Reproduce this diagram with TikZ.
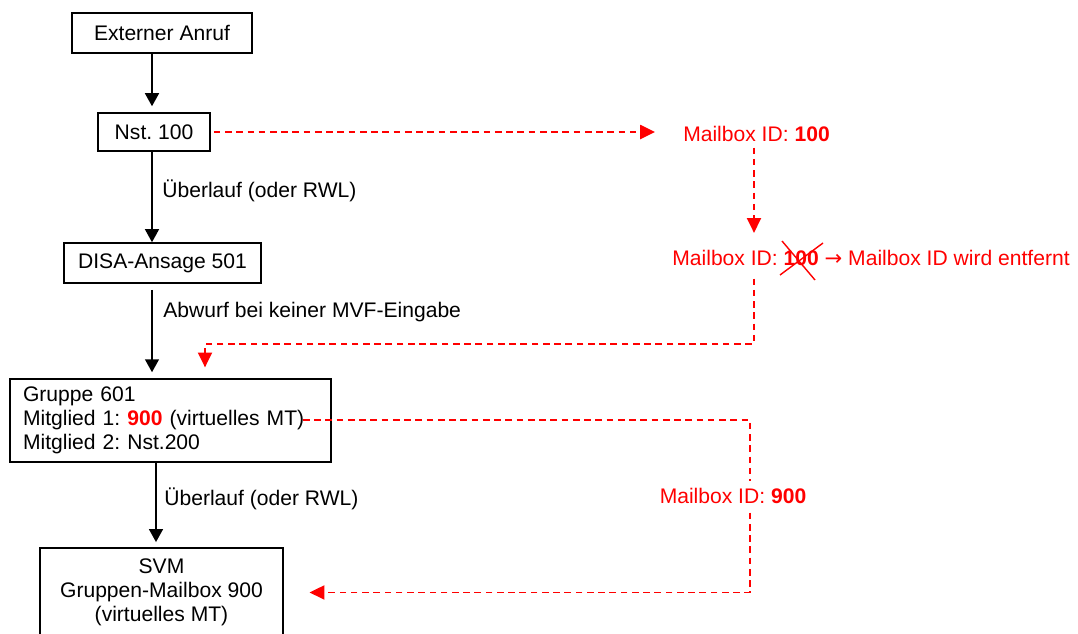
\documentclass[tikz,border=0pt]{standalone}
\usepackage{fontspec}
\setmainfont{Liberation Sans}
\newfontfamily\pfeil{DejaVu Sans}
\usepackage{tikz}
\usetikzlibrary{arrows.meta,positioning,calc}
\definecolor{alarm}{HTML}{FF0000}
\definecolor{ink}{HTML}{000000}

\begin{document}
\begin{tikzpicture}[x=0.02cm,y=-0.02cm,>={Triangle[length=7.4pt,width=7.9pt]},
  every node/.style={font=\fontsize{12pt}{13.8pt}\selectfont\frenchspacing},
  kasten/.style={draw=ink,line width=0.9pt,inner sep=0pt},
  fluss/.style={->,ink,line width=1pt},
  rot/.style={-{Triangle[length=8.4pt,width=8pt]},alarm,line width=1pt,dash pattern=on 3.8pt off 2.6pt},
  rottext/.style={text=alarm,inner sep=0pt},
  notiz/.style={inner sep=0pt,anchor=base west}]
  \useasboundingbox (0,0) rectangle (1078,633);

  % call chain on the left
  \node[kasten,minimum width=3.6cm,minimum height=0.8cm] (anruf) at (162,33) {Externer Anruf};
  \node[kasten,minimum width=2.24cm,minimum height=0.76cm] (nst) at (154,132) {Nst. 100};
  \node[kasten,minimum width=3.94cm,minimum height=0.8cm] (disa) at (162.5,263) {DISA-Ansage 501};
  \node[kasten,minimum width=6.42cm,minimum height=1.66cm,text width=5.9cm,align=left] (gruppe) at (170.5,420.5)
    {Gruppe 601\\Mitglied 1: \textcolor{alarm}{\textbf{900}} (virtuelles MT)\\Mitglied 2: Nst.200};
  \node[kasten,minimum width=4.86cm,inner ysep=6.2pt,align=center,anchor=north] (svm) at (161.5,547)
    {SVM\\Gruppen-Mailbox 900\\(virtuelles MT)};

  \coordinate (achse) at (152,0);
  \coordinate (achse2) at (156,0);
  \draw[fluss,shorten >=3.4pt] (anruf.south -| achse) -- (nst.north -| achse);
  \draw[fluss] (nst.south -| achse) -- (disa.north -| achse);
  \draw[fluss,shorten <=3.4pt,shorten >=3.4pt] (disa.south -| achse) -- (gruppe.north -| achse);
  \draw[fluss,shorten >=2.8pt] (gruppe.south -| achse2) -- (svm.north -| achse2);

  \node[notiz] (ueber1) at (162,197) {Überlauf (oder RWL)};
  \node[notiz] (abwurf) at (163,317) {Abwurf bei keiner MVF-Eingabe};
  \node[notiz] (ueber2) at (164,505) {Überlauf (oder RWL)};

  % mailbox id path
  \node[rottext,anchor=base] (mb100) at (756.5,141) {Mailbox ID: \textbf{100}};
  \node[rottext,anchor=base west] (mb2) at (672,265) {Mailbox ID: \textbf{100} {\pfeil →} Mailbox ID wird entfernt};
  \draw[alarm,line width=0.8pt] ($(mb2.base west)+(110,-24)$) -- ++(33,39);
  \draw[alarm,line width=0.8pt] ($(mb2.base west)+(108,10)$) -- ++(43,-32);

  \coordinate (lot) at (754,0);
  \coordinate (knick) at (754,344);
  \coordinate (ziel) at (205,0);
  \draw[rot,shorten <=1.7pt,shorten >=15.9pt] (nst.east) -- (nst.east -| mb100.west);
  \draw[rot,shorten <=3.4pt,shorten >=9.4pt] (mb100.south -| lot) -- (mb2.north -| lot);
  \draw[rot,shorten <=7.4pt,shorten >=6.2pt] (mb2.south -| lot) -- (knick) -| (gruppe.north -| ziel);

  \coordinate (m900) at (303,420);
  \coordinate (ecke) at (750,420);
  \draw[rot,shorten >=14.7pt] (m900) -- (ecke) |- (svm.east);
  \node[rottext,fill=white,inner xsep=0pt,inner ysep=4pt,anchor=base] (mb900) at (733,503) {Mailbox ID: \textbf{900}};
\end{tikzpicture}
\end{document}
